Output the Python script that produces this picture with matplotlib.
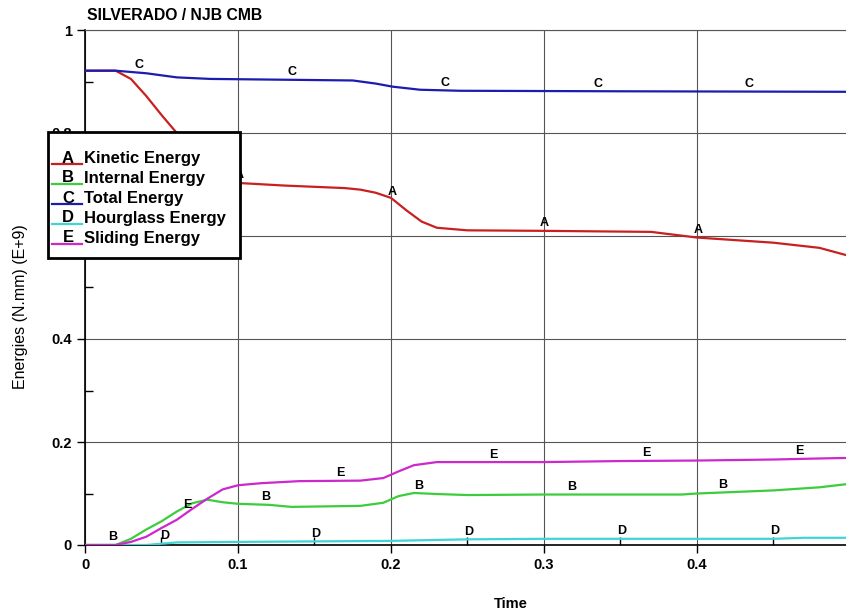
import matplotlib
matplotlib.use('Agg')
import matplotlib.pyplot as plt
from matplotlib.patches import Rectangle
from matplotlib.lines import Line2D
from matplotlib.ticker import MultipleLocator
import numpy as np

plt.rcParams['font.family'] = ['Liberation Sans', 'DejaVu Sans']

# Kinetic energy (A)
kin_t = [0, 0.02, 0.03, 0.04, 0.05, 0.06, 0.07, 0.08, 0.09, 0.1, 0.13, 0.17, 0.18,
         0.19, 0.2, 0.21, 0.22, 0.23, 0.25, 0.3, 0.37, 0.4, 0.45, 0.48, 0.4974]
kin_e = [0.921, 0.921, 0.905, 0.872, 0.835, 0.80, 0.77, 0.745, 0.72, 0.703, 0.698, 0.693,
         0.690, 0.684, 0.674, 0.650, 0.628, 0.616, 0.611, 0.610, 0.608, 0.597, 0.587, 0.577, 0.563]

# Internal energy (B)
int_t = [0, 0.02, 0.03, 0.04, 0.05, 0.06, 0.07, 0.08, 0.09, 0.1, 0.12, 0.135, 0.18,
         0.195, 0.205, 0.215, 0.23, 0.25, 0.3, 0.39, 0.4, 0.45, 0.48, 0.4974]
int_e = [0, 0, 0.012, 0.030, 0.046, 0.065, 0.081, 0.088, 0.083, 0.080, 0.078, 0.074, 0.076,
         0.082, 0.095, 0.101, 0.099, 0.097, 0.098, 0.098, 0.100, 0.106, 0.112, 0.118]

# Total energy (C)
tot_t = [0, 0.02, 0.04, 0.06, 0.082, 0.175, 0.19, 0.201, 0.219, 0.245, 0.35, 0.4974]
tot_e = [0.921, 0.921, 0.916, 0.908, 0.905, 0.902, 0.896, 0.890, 0.884, 0.882, 0.881, 0.880]

# Hourglass energy (D)
hg_t = [0, 0.04, 0.06, 0.1, 0.2, 0.25, 0.3, 0.45, 0.47, 0.4974]
hg_e = [0, 0, 0.005, 0.006, 0.008, 0.011, 0.012, 0.012, 0.014, 0.014]

# Sliding energy (E)
sl_t = [0, 0.02, 0.03, 0.04, 0.05, 0.06, 0.07, 0.08, 0.09, 0.1, 0.115, 0.14, 0.18,
        0.195, 0.205, 0.215, 0.23, 0.3, 0.35, 0.4, 0.45, 0.48, 0.4974]
sl_e = [0, 0, 0.006, 0.016, 0.033, 0.049, 0.070, 0.090, 0.108, 0.116, 0.120, 0.124, 0.125,
        0.130, 0.143, 0.155, 0.161, 0.161, 0.163, 0.164, 0.166, 0.168, 0.169]

# where the curve letters sit along time
kin_marks = [0.101, 0.201, 0.300, 0.401]
int_marks = [0.018, 0.118, 0.218, 0.318, 0.417]
tot_marks = [0.035, 0.135, 0.235, 0.335, 0.434]
hg_marks = [0.052, 0.151, 0.251, 0.351, 0.451]
sl_marks = [0.067, 0.167, 0.267, 0.367, 0.467]

x_ticks = [0, 0.1, 0.2, 0.3, 0.4]
x_labels = ['0', '0.1', '0.2', '0.3', '0.4']
y_ticks = [0, 0.2, 0.4, 0.6, 0.8, 1]
# 0.6 sits fully behind the legend box, so it is left blank
y_labels = ['0', '0.2', '0.4', '', '0.8', '1']

curves = [
    ('A', 'Kinetic Energy', kin_t, kin_e, kin_marks, '#c82020'),
    ('B', 'Internal Energy', int_t, int_e, int_marks, '#3ccc3c'),
    ('C', 'Total Energy', tot_t, tot_e, tot_marks, '#1c1cae'),
    ('D', 'Hourglass Energy', hg_t, hg_e, hg_marks, '#40d4d4'),
    ('E', 'Sliding Energy', sl_t, sl_e, sl_marks, '#cc28cc'),
]

W, H = 846, 613
fig = plt.figure(figsize=(W / 100, H / 100), dpi=100)
ax = fig.add_axes([85 / W, 1 - 545 / H, 1 - 85 / W, 515 / H])

for letter, name, t, e, marks, color in curves:
    ax.plot(t, e, color=color, linewidth=1.6, zorder=3)
    for m in marks:
        ax.text(m, np.interp(m, t, e) + 0.003, letter, ha='center', va='bottom',
                fontsize=9, fontweight='bold', zorder=4)

ax.set_xlim(0, 0.4974)
ax.set_ylim(0, 1)
ax.set_xticks(x_ticks)
ax.set_xticklabels(x_labels)
ax.set_yticks(y_ticks)
ax.set_yticklabels(y_labels)
ax.xaxis.set_minor_locator(MultipleLocator(0.05))
ax.yaxis.set_minor_locator(MultipleLocator(0.1))
ax.tick_params(which='major', direction='out', length=6, width=1, labelsize=10.5)
ax.tick_params(which='minor', direction='in', length=6, width=1)
for lbl in ax.get_xticklabels() + ax.get_yticklabels():
    lbl.set_fontweight('bold')
ax.grid(True, which='major', color='#555555', linewidth=0.8)
ax.spines['right'].set_visible(False)
ax.spines['top'].set_color('#555555')
ax.spines['top'].set_linewidth(0.8)
ax.spines['left'].set_linewidth(1.2)
ax.spines['bottom'].set_linewidth(1.2)

fig.text(511 / W, 1 - 604 / H, 'Time', fontsize=10.5, fontweight='bold', ha='center', va='center')
fig.text(20 / W, 1 - 307 / H, 'Energies (N.mm) (E+9)', fontsize=11.5, rotation=90,
         ha='center', va='center')
fig.text(87 / W, 1 - 15 / H, 'SILVERADO / NJB CMB', fontsize=11.3, fontweight='bold',
         ha='left', va='center')

# legend box drawn by hand, LS-DYNA style
box = Rectangle((48 / W, 1 - 258 / H), 192 / W, 126 / H, transform=fig.transFigure,
                facecolor='white', edgecolor='black', linewidth=2, zorder=10, clip_on=False)
ax.add_artist(box)
for i, (letter, name, t, e, marks, color) in enumerate(curves):
    yc = 158 + 20 * i
    ax.add_artist(Line2D([52 / W, 82 / W], [1 - (yc + 6) / H] * 2, transform=fig.transFigure,
                         color=color, linewidth=1.6, zorder=11, clip_on=False))
    ax.text(68 / W, 1 - yc / H, letter, transform=fig.transFigure, ha='center', va='center',
            fontsize=12, fontweight='bold', zorder=12, clip_on=False)
    ax.text(84 / W, 1 - yc / H, name, transform=fig.transFigure, ha='left', va='center',
            fontsize=12, fontweight='bold', zorder=12, clip_on=False)

fig.savefig('out.png', dpi=100, facecolor='white')
